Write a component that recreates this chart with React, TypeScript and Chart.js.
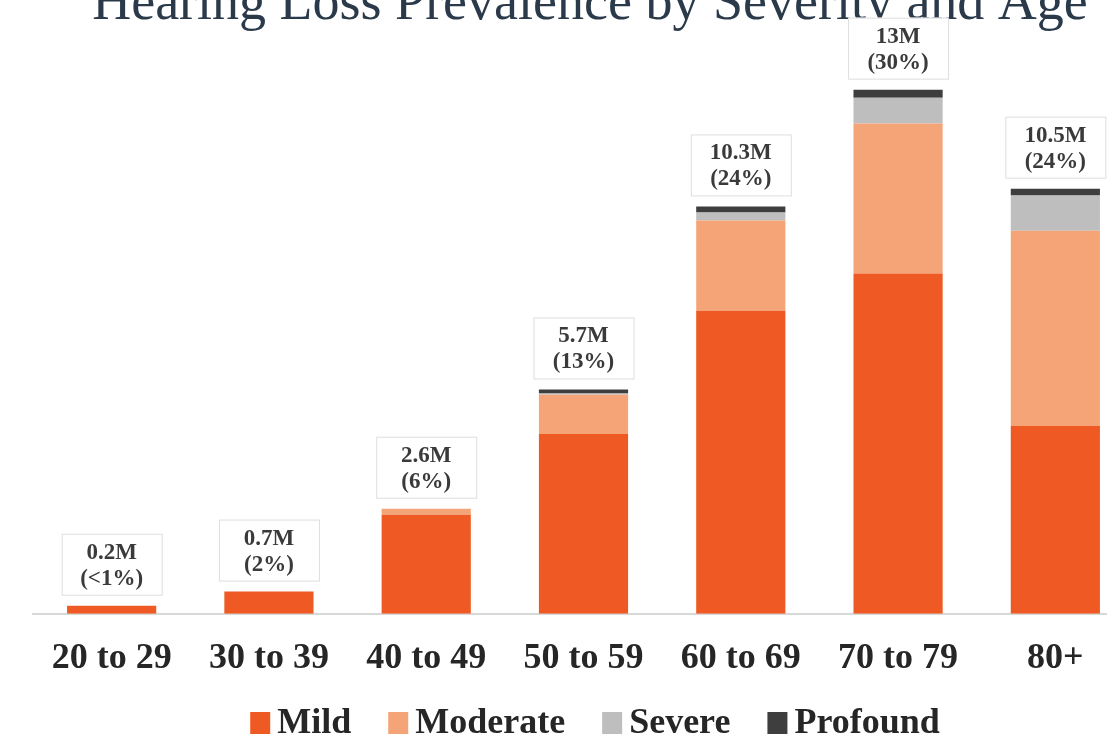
import React, { useEffect, useRef } from "react";
import { Chart, registerables } from "chart.js";

Chart.register(...registerables);

const titleText = "Hearing Loss Prevalence by Severity and Age";
const categories = ["20 to 29", "30 to 39", "40 to 49", "50 to 59", "60 to 69", "70 to 79", "80+"];
const mild = [0.2, 0.55, 2.45, 4.45, 7.5, 8.42, 4.65];
const moderate = [0, 0, 0.15, 0.97, 2.23, 3.71, 4.83];
const severe = [0, 0, 0, 0.03, 0.2, 0.64, 0.87];
const profound = [0, 0, 0, 0.1, 0.15, 0.2, 0.17];
const totalLabels = ["0.2M", "0.7M", "2.6M", "5.7M", "10.3M", "13M", "10.5M"];
const shareLabels = ["(<1%)", "(2%)", "(6%)", "(13%)", "(24%)", "(30%)", "(24%)"];
const seriesNames = ["Mild", "Moderate", "Severe", "Profound"];
const seriesColors = ["#EF5A24", "#F5A477", "#BEBEBE", "#3E3E3E"];

const SERIF = "'Liberation Serif', 'Times New Roman', serif";

const titleDraw = {
  id: "titleDraw",
  beforeDatasetsDraw(chart: any) {
    const ctx = chart.ctx;
    ctx.save();
    ctx.font = `54px ${SERIF}`;
    ctx.fillStyle = "#2B3A4A";
    ctx.textAlign = "center";
    ctx.textBaseline = "alphabetic";
    ctx.fillText(titleText, 590, 59);
    ctx.restore();
  },
};

const boxLabels = {
  id: "boxLabels",
  afterDatasetsDraw(chart: any) {
    const ctx = chart.ctx;
    const meta0 = chart.getDatasetMeta(0);
    const yScale = chart.scales.y;
    ctx.save();
    for (let i = 0; i < chart.data.labels.length; i++) {
      let total = 0;
      chart.data.datasets.forEach((ds: any) => (total += ds.data[i]));
      const x = meta0.data[i].x;
      const yTop = yScale.getPixelForValue(total);
      const w = 100;
      const h = 61;
      const bottom = yTop - 11;
      const top = bottom - h;
      ctx.fillStyle = "#ffffff";
      ctx.fillRect(x - w / 2, top, w, h);
      ctx.strokeStyle = "#dedede";
      ctx.lineWidth = 1;
      ctx.strokeRect(x - w / 2 + 0.5, top + 0.5, w, h);
      ctx.fillStyle = "#3a3a3a";
      ctx.font = `bold 23px ${SERIF}`;
      ctx.textAlign = "center";
      ctx.textBaseline = "middle";
      ctx.fillText(totalLabels[i], x, top + 19);
      ctx.fillText(shareLabels[i], x, top + 45);
    }
    ctx.restore();
  },
};

const customLegend = {
  id: "customLegend",
  afterDraw(chart: any) {
    const ctx = chart.ctx;
    ctx.save();
    ctx.font = `bold 36px ${SERIF}`;
    ctx.textBaseline = "middle";
    ctx.textAlign = "left";
    const boxW = 20;
    const boxH = 22;
    const gapBox = 7;
    const gapItem = 37;
    const widths = seriesNames.map((n) => ctx.measureText(n).width);
    const total =
      widths.reduce((a, b) => a + b, 0) + seriesNames.length * (boxW + gapBox) + (seriesNames.length - 1) * gapItem;
    let x = chart.width / 2 + 5 - total / 2;
    const y = chart.scales.x.bottom + 20;
    seriesNames.forEach((name, i) => {
      ctx.fillStyle = seriesColors[i];
      ctx.fillRect(x, y - boxH / 2, boxW, boxH);
      x += boxW + gapBox;
      ctx.fillStyle = "#262626";
      ctx.fillText(name, x, y + 1);
      x += widths[i] + gapItem;
    });
    ctx.restore();
  },
};

export default function App() {
  const ref = useRef<HTMLCanvasElement>(null);
  useEffect(() => {
    const series = [mild, moderate, severe, profound];
    const chart = new Chart(ref.current!, {
      type: "bar",
      data: {
        labels: categories,
        datasets: series.map((d, i) => ({
          label: seriesNames[i],
          data: d,
          backgroundColor: seriesColors[i],
          borderWidth: 0,
          categoryPercentage: 1,
          barPercentage: 0.567,
        })),
      },
      options: {
        animation: false,
        responsive: true,
        maintainAspectRatio: false,
        layout: { padding: { left: 33, right: 46, top: 88, bottom: 44 } },
        plugins: {
          legend: { display: false },
          tooltip: { enabled: false },
          title: { display: false },
        },
        scales: {
          x: {
            stacked: true,
            grid: { display: false, drawTicks: false },
            border: { display: true, color: "#d9d9d9", width: 2 },
            ticks: {
              color: "#262626",
              padding: 23,
              font: { family: SERIF, size: 36, weight: "bold" },
            },
          },
          y: {
            stacked: true,
            display: false,
            min: 0,
            max: 14,
          },
        },
      },
      plugins: [titleDraw, boxLabels, customLegend],
    });
    return () => chart.destroy();
  }, []);
  return (
    <div
      style={{
        position: "fixed",
        left: 0,
        top: 0,
        width: 1107,
        height: 747,
        overflow: "hidden",
        background: "#ffffff",
      }}
    >
      <div style={{ position: "absolute", left: 0, top: -40, width: 1180, height: 787 }}>
        <canvas ref={ref} />
      </div>
    </div>
  );
}
